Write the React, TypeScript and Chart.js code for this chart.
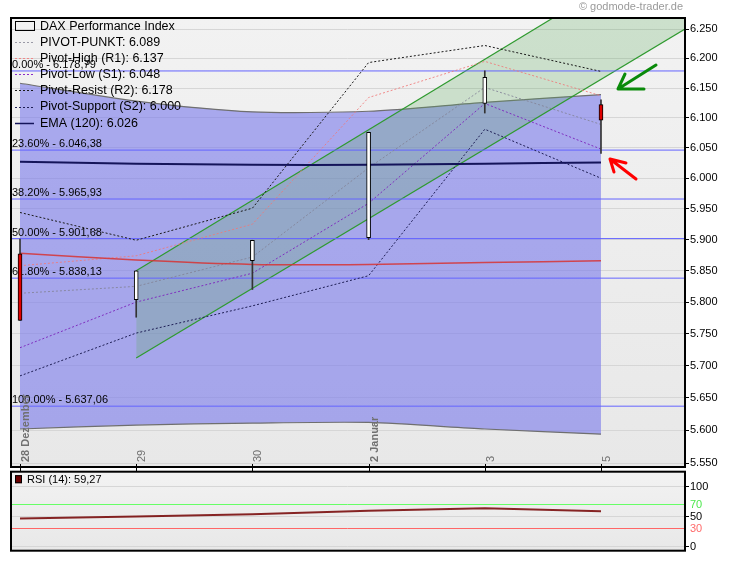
import React, { useEffect, useRef } from 'react';
import { Chart, registerables } from 'chart.js';

Chart.register(...registerables);

// ---------- data ----------
const categories = ['28 Dezember', '29', '30', '2 Januar', '3', '5'];
const boldLabel = [true, false, false, true, false, false];

const openP = [5877, 5804, 5866, 5903, 6124, 6122];
const highP = [5901, 5850, 5899, 6076, 6179, 6130];
const lowP = [5771, 5776, 5820, 5900, 6108, 6041];
const closeP = [5771, 5850, 5899, 6076, 6168, 6096];

const bandUpper = [6158, 6128, 6110, 6111, 6126, 6139];
const bandLower = [5602, 5608, 5611, 5612, 5602, 5594];

const pivotPP = [5814, 5825, 5872, 6017, 6151, 6089];
const pivotR1 = [5858, 5874, 5925, 6134, 6195, 6137];
const pivotS1 = [5728, 5800, 5846, 5959, 6124, 6048];
const pivotR2 = [5944, 5899, 5951, 6193, 6222, 6178];
const pivotS2 = [5684, 5751, 5794, 5842, 6081, 6000];
const ema120 = [6027, 6024, 6022, 6022, 6024, 6026];
const redAvg = [5878, 5867, 5860, 5860, 5863, 5866];

const channelX = [1, 5.723];
const channelUpper = [5850, 6408];
const channelLower = [5712, 6250];

const fibPct = ['0.00%', '23.60%', '38.20%', '50.00%', '61.80%', '100.00%'];
const fibLevels = [6178.79, 6046.38, 5965.93, 5901.68, 5838.13, 5637.06];

const yTicks = [5550, 5600, 5650, 5700, 5750, 5800, 5850, 5900, 5950, 6000, 6050, 6100, 6150, 6200, 6250];

const rsiValues = [47, 50.5, 54, 60, 64, 59.27];
const rsiTicks = [0, 30, 50, 70, 100];

// ---------- helpers ----------
const X_MIN = -0.0775;
const X_MAX = 5.723;
const Y_MIN = 5544;
const Y_MAX = 6269;
const FONT = '"Liberation Sans", Arial, Helvetica, sans-serif';

const fmtInt = (v: number) => {
  const s = Math.round(v).toString();
  return s.length > 3 ? s.slice(0, s.length - 3) + '.' + s.slice(-3) : s;
};
const fmtFib = (v: number) => {
  const [i, d] = v.toFixed(2).split('.');
  return fmtInt(Number(i)) + ',' + d;
};
const pts = (arr: number[]) => arr.map((y, i) => ({ x: i, y }));
const last = (arr: number[]) => arr[arr.length - 1];

const legendItems = [
  { text: 'DAX Performance Index', kind: 'box', color: '#000' },
  { text: 'PIVOT-PUNKT: ' + fmtInt(last(pivotPP)), kind: 'dot', color: '#9A9AA6' },
  { text: 'Pivot-High (R1): ' + fmtInt(last(pivotR1)), kind: 'dot', color: '#F08888' },
  { text: 'Pivot-Low (S1): ' + fmtInt(last(pivotS1)), kind: 'dot', color: '#8A2BC8' },
  { text: 'Pivot-Resist (R2): ' + fmtInt(last(pivotR2)), kind: 'dot', color: '#1A1A1A' },
  { text: 'Pivot-Support (S2): ' + fmtInt(last(pivotS2)), kind: 'dot', color: '#1E1E55' },
  { text: 'EMA (120): ' + fmtInt(last(ema120)), kind: 'solid', color: '#14145A' },
];

const BAND_LOWER_INDEX = 1;

function bgFill(chart: any) {
  const { ctx, chartArea: a } = chart;
  const g = ctx.createLinearGradient(0, a.top, 0, a.bottom);
  g.addColorStop(0, '#F2F2F2');
  g.addColorStop(1, '#E8E8E8');
  ctx.save();
  ctx.fillStyle = g;
  ctx.fillRect(a.left, a.top, a.right - a.left, a.bottom - a.top);
  ctx.restore();
}

function border(chart: any) {
  const { ctx, chartArea: a } = chart;
  ctx.save();
  ctx.strokeStyle = '#000';
  ctx.lineWidth = 2;
  ctx.strokeRect(a.left, a.top, a.right - a.left, a.bottom - a.top);
  ctx.restore();
}

const mainPlugin = {
  id: 'mainDecor',
  beforeDraw(chart: any) {
    bgFill(chart);
  },
  afterDatasetDraw(chart: any, args: any) {
    if (args.index !== BAND_LOWER_INDEX) return;
    const { ctx, chartArea: a } = chart;
    const ys = chart.scales.y;
    ctx.save();
    ctx.font = '11px ' + FONT;
    ctx.fillStyle = '#000';
    ctx.textAlign = 'left';
    ctx.textBaseline = 'alphabetic';
    fibLevels.forEach((v, i) => {
      const py = ys.getPixelForValue(v);
      ctx.fillText(fibPct[i] + ' - ' + fmtFib(v), a.left + 1, py - 3);
    });
    ctx.restore();
  },
  afterDraw(chart: any) {
    const { ctx, chartArea: a } = chart;
    const xs = chart.scales.x;
    border(chart);

    // x ticks and rotated labels
    ctx.save();
    categories.forEach((lab, i) => {
      const px = xs.getPixelForValue(i);
      ctx.strokeStyle = '#000';
      ctx.lineWidth = 1;
      ctx.beginPath();
      ctx.moveTo(Math.round(px) + 0.5, a.bottom - 3);
      ctx.lineTo(Math.round(px) + 0.5, a.bottom + 4);
      ctx.stroke();
      ctx.save();
      ctx.translate(px + 6, a.bottom - 5);
      ctx.rotate(-Math.PI / 2);
      ctx.font = (boldLabel[i] ? 'bold ' : '') + '11px ' + FONT;
      ctx.fillStyle = '#707070';
      ctx.textAlign = 'left';
      ctx.textBaseline = 'middle';
      ctx.fillText(lab, 0, 0);
      ctx.restore();
    });
    ctx.restore();

    // legend
    ctx.save();
    ctx.font = '12.5px ' + FONT;
    ctx.textAlign = 'left';
    ctx.textBaseline = 'middle';
    legendItems.forEach((it, i) => {
      const cy = a.top + 8 + i * 16.1;
      const x0 = a.left + 4;
      const x1 = a.left + 23;
      ctx.strokeStyle = it.color;
      if (it.kind === 'box') {
        ctx.lineWidth = 1;
        ctx.setLineDash([]);
        ctx.strokeRect(x0 + 0.5, Math.round(cy) - 4.5, x1 - x0, 9);
      } else {
        ctx.lineWidth = it.kind === 'solid' ? 1.5 : 1;
        ctx.setLineDash(it.kind === 'dot' ? [2, 2] : []);
        ctx.beginPath();
        ctx.moveTo(x0, Math.round(cy) + 0.5);
        ctx.lineTo(x1, Math.round(cy) + 0.5);
        ctx.stroke();
      }
      ctx.setLineDash([]);
      ctx.fillStyle = '#000';
      ctx.fillText(it.text, a.left + 29, cy + 0.5);
    });
    ctx.restore();

    // watermark
    ctx.save();
    ctx.font = '11px ' + FONT;
    ctx.fillStyle = '#9A9A9A';
    ctx.textAlign = 'right';
    ctx.textBaseline = 'middle';
    ctx.fillText('\u00A9 godmode-trader.de', a.right - 2, 7);
    ctx.restore();

    // annotation arrows
    const R = a.right;
    const T = a.top;
    ctx.save();
    ctx.lineWidth = 3;
    ctx.lineCap = 'round';
    ctx.lineJoin = 'round';
    ctx.strokeStyle = '#0A8A0A';
    ctx.beginPath();
    ctx.moveTo(R - 29, T + 47);
    ctx.lineTo(R - 67, T + 71);
    ctx.moveTo(R - 60, T + 56);
    ctx.lineTo(R - 67, T + 71);
    ctx.lineTo(R - 41, T + 71);
    ctx.stroke();
    ctx.strokeStyle = '#FF0000';
    ctx.beginPath();
    ctx.moveTo(R - 49, T + 161);
    ctx.lineTo(R - 75, T + 141);
    ctx.moveTo(R - 71, T + 154);
    ctx.lineTo(R - 75, T + 141);
    ctx.lineTo(R - 59, T + 145);
    ctx.stroke();
    ctx.restore();
  },
};

const rsiPlugin = {
  id: 'rsiDecor',
  beforeDraw(chart: any) {
    bgFill(chart);
  },
  afterDraw(chart: any) {
    const { ctx, chartArea: a } = chart;
    border(chart);
    ctx.save();
    ctx.fillStyle = '#6B0000';
    ctx.strokeStyle = '#000';
    ctx.lineWidth = 1;
    ctx.fillRect(a.left + 4, a.top + 3.5, 7, 8);
    ctx.strokeRect(a.left + 4.5, a.top + 4, 6, 7);
    ctx.font = '11px ' + FONT;
    ctx.fillStyle = '#000';
    ctx.textAlign = 'left';
    ctx.textBaseline = 'middle';
    ctx.fillText('RSI (14): ' + last(rsiValues).toFixed(2).replace('.', ','), a.left + 16, a.top + 8);
    ctx.restore();
  },
};

function lineDs(data: any[], color: string, extra: any = {}) {
  return {
    type: 'line',
    data,
    borderColor: color,
    borderWidth: 1,
    pointRadius: 0,
    fill: false,
    tension: 0,
    ...extra,
  };
}

function mainConfig(): any {
  const idx = categories.map((_, i) => i);
  const datasets: any[] = [];
  datasets.push(
    lineDs(pts(bandUpper), '#6F6F6F', {
      borderWidth: 1.2,
      backgroundColor: 'rgba(120,120,235,0.6)',
      fill: '+1',
      tension: 0.25,
      order: 100,
    })
  );
  datasets.push(lineDs(pts(bandLower), '#6F6F6F', { borderWidth: 1.2, tension: 0.25, order: 99 }));
  datasets.push(
    lineDs(channelX.map((x, i) => ({ x, y: channelUpper[i] })), '#2F9A2F', {
      borderWidth: 1.2,
      backgroundColor: 'rgba(90,170,90,0.25)',
      fill: '+1',
      order: 95,
    })
  );
  datasets.push(
    lineDs(channelX.map((x, i) => ({ x, y: channelLower[i] })), '#2F9A2F', { borderWidth: 1.2, order: 94 })
  );
  fibLevels.forEach((v) =>
    datasets.push(
      lineDs(
        [
          { x: X_MIN, y: v },
          { x: X_MAX, y: v },
        ],
        '#6464FF',
        { order: 90 }
      )
    )
  );
  const dash = [2, 2];
  datasets.push(lineDs(pts(pivotPP), 'rgba(130,130,150,0.85)', { borderDash: dash, order: 54 }));
  datasets.push(lineDs(pts(pivotR1), 'rgba(240,120,120,0.85)', { borderDash: dash, order: 53 }));
  datasets.push(lineDs(pts(pivotS1), '#7F2FC0', { borderDash: dash, order: 52 }));
  datasets.push(lineDs(pts(pivotR2), '#1A1A1A', { borderDash: dash, order: 51 }));
  datasets.push(lineDs(pts(pivotS2), '#1E1E55', { borderDash: dash, order: 50 }));
  datasets.push(lineDs(pts(redAvg), 'rgba(215,50,50,0.85)', { borderWidth: 1.5, tension: 0.2, order: 41 }));
  datasets.push(lineDs(pts(ema120), '#14145A', { borderWidth: 2, tension: 0.2, order: 40 }));
  datasets.push({
    type: 'bar',
    data: idx.map((i) => ({ x: i, y: [lowP[i], highP[i]] })),
    backgroundColor: '#333333',
    borderWidth: 0,
    barThickness: 1,
    grouped: false,
    order: 10,
  });
  datasets.push({
    type: 'bar',
    data: idx.map((i) => ({ x: i, y: [openP[i], closeP[i]] })),
    backgroundColor: idx.map((i) => (closeP[i] < openP[i] ? '#E00000' : '#FFFFFF')),
    borderColor: '#000000',
    borderWidth: 1,
    borderSkipped: false,
    barThickness: 4,
    grouped: false,
    order: 5,
  });

  return {
    type: 'line',
    data: { datasets },
    plugins: [mainPlugin],
    options: {
      responsive: false,
      animation: false,
      devicePixelRatio: 1,
      events: [],
      layout: { padding: { left: 11, top: 18, right: 0, bottom: 11 } },
      plugins: { legend: { display: false }, tooltip: { enabled: false }, title: { display: false } },
      scales: {
        x: { type: 'linear', min: X_MIN, max: X_MAX, bounds: 'data', offset: false, display: false },
        y: {
          type: 'logarithmic',
          position: 'right',
          min: Y_MIN,
          max: Y_MAX,
          bounds: 'data',
          afterBuildTicks: (s: any) => {
            s.ticks = yTicks.map((v) => ({ value: v }));
          },
          afterFit: (s: any) => {
            s.width = 45;
          },
          ticks: {
            callback: (v: any) => fmtInt(Number(v)),
            font: { size: 11, family: FONT },
            color: '#000',
            padding: 1,
            autoSkip: false,
            maxRotation: 0,
          },
          grid: { color: '#D6D6D6', lineWidth: 1, tickLength: 4, tickColor: '#000', drawTicks: true },
          border: { display: true, color: '#000', width: 2 },
        },
      },
    },
  };
}

function rsiConfig(): any {
  return {
    type: 'line',
    data: {
      datasets: [lineDs(pts(rsiValues), 'rgba(115,0,0,0.85)', { borderWidth: 2 })],
    },
    plugins: [rsiPlugin],
    options: {
      responsive: false,
      animation: false,
      devicePixelRatio: 1,
      events: [],
      layout: { padding: { left: 11, top: 11.7, right: 0, bottom: 10.3 } },
      plugins: { legend: { display: false }, tooltip: { enabled: false } },
      scales: {
        x: { type: 'linear', min: X_MIN, max: X_MAX, bounds: 'data', offset: false, display: false },
        y: {
          type: 'linear',
          position: 'right',
          min: -6.67,
          max: 125,
          bounds: 'data',
          afterBuildTicks: (s: any) => {
            s.ticks = rsiTicks.map((v) => ({ value: v }));
          },
          afterFit: (s: any) => {
            s.width = 45;
          },
          ticks: {
            font: { size: 11, family: FONT },
            padding: 1,
            autoSkip: false,
            color: (c: any) => (c.tick && c.tick.value === 70 ? '#4EE84E' : c.tick && c.tick.value === 30 ? '#FF6A6A' : '#000'),
          },
          grid: {
            lineWidth: 1,
            tickLength: 4,
            color: (c: any) => (c.tick && c.tick.value === 70 ? '#66FF66' : c.tick && c.tick.value === 30 ? '#FF6666' : '#D6D6D6'),
            tickColor: (c: any) => (c.tick && (c.tick.value === 70 || c.tick.value === 30) ? 'rgba(0,0,0,0)' : '#000'),
          },
          border: { display: true, color: '#000', width: 2 },
        },
      },
    },
  };
}

export default function App() {
  const mainRef = useRef<HTMLCanvasElement>(null);
  const rsiRef = useRef<HTMLCanvasElement>(null);

  useEffect(() => {
    const main = new Chart(mainRef.current as HTMLCanvasElement, mainConfig());
    const rsi = new Chart(rsiRef.current as HTMLCanvasElement, rsiConfig());
    return () => {
      main.destroy();
      rsi.destroy();
    };
  }, []);

  return (
    <div style={{ position: 'fixed', left: 0, top: 0, width: 730, height: 561, background: '#FFFFFF', overflow: 'hidden' }}>
      <canvas
        ref={mainRef}
        width={730}
        height={478}
        style={{ position: 'absolute', left: 0, top: 0, width: 730, height: 478 }}
      />
      <canvas
        ref={rsiRef}
        width={730}
        height={101}
        style={{ position: 'absolute', left: 0, top: 460, width: 730, height: 101 }}
      />
    </div>
  );
}
